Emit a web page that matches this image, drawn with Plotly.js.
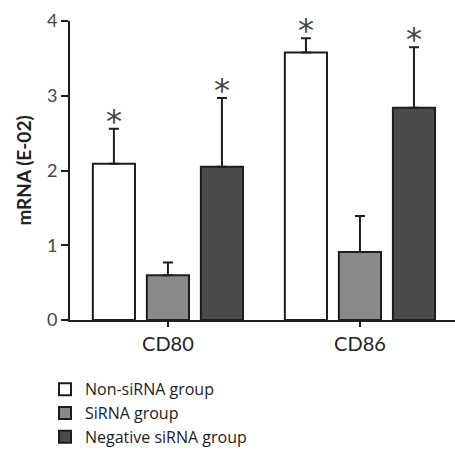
<!DOCTYPE html>
<html><head><meta charset="utf-8">
<script src="https://cdn.plot.ly/plotly-3.0.1.min.js"></script>
<style>html,body{margin:0;padding:0;background:#fff}#chart{width:455px;height:451px}</style>
</head><body><div id="chart"></div>
<script>
const categories = ["CD80", "CD86"];
const seriesNames = ["Non-siRNA group", "SiRNA group", "Negative siRNA group"];
const nonSiRNA = [2.09, 3.58];
const nonSiRNAErr = [0.47, 0.19];
const siRNA = [0.60, 0.91];
const siRNAErr = [0.17, 0.48];
const negSiRNA = [2.05, 2.84];
const negSiRNAErr = [0.92, 0.81];
const significant = [[true, true], [false, false], [true, true]];

const values = [nonSiRNA, siRNA, negSiRNA];
const errs = [nonSiRNAErr, siRNAErr, negSiRNAErr];
const colors = ["#ffffff", "#8a8a8c", "#4b4b4d"];
const xIdx = categories.map((c, i) => i);

const bargap = 0.156;
const traces = values.map((v, k) => ({
  type: "bar", name: seriesNames[k], x: xIdx, y: v,
  marker: {color: colors[k], line: {color: "#1e1e1e", width: 2}},
  error_y: {type: "data", symmetric: false, array: errs[k], arrayminus: v.map(() => 0),
            color: "#1e1e1e", thickness: 2, width: 5}
}));

const slot = (1 - bargap) / values.length;
const annotations = [];
values.forEach((v, k) => v.forEach((val, i) => {
  if (significant[k][i]) {
    annotations.push({xref: "x", yref: "y", x: i + (k - 1) * slot, y: val + errs[k][i],
      text: "*", showarrow: false, yanchor: "bottom", yshift: -13,
      font: {family: "DejaVu Sans", size: 32, color: "#444"}});
  }
}));

const layout = {
  width: 455, height: 451,
  margin: {l: 70, r: 0, t: 21, b: 131, autoexpand: false},
  paper_bgcolor: "#fff", plot_bgcolor: "#fff",
  barmode: "group", bargap: bargap, bargroupgap: 0.22,
  font: {family: "Lato, 'Open Sans', sans-serif", color: "#222"},
  xaxis: {tickvals: xIdx, ticktext: categories, range: [-0.51, 1.495],
    showline: true, linecolor: "#1e1e1e", linewidth: 2, ticks: "outside", ticklen: 5, tickwidth: 2,
    tickcolor: "#1e1e1e", showgrid: false, zeroline: false, tickfont: {size: 20, color: "#222"}},
  yaxis: {range: [0, 4], dtick: 1, showline: true, linecolor: "#1e1e1e", linewidth: 2,
    ticks: "outside", ticklen: 7, tickwidth: 2, tickcolor: "#1e1e1e",
    showgrid: false, zeroline: false, tickfont: {size: 18, color: "#444"},
    title: {text: "<b>mRNA (E-02)</b>", font: {size: 19, color: "#222"}, standoff: 10}},
  showlegend: true,
  legend: {x: -0.065, y: -0.175, xanchor: "left", yanchor: "top", orientation: "v",
    font: {family: "'Open Sans', sans-serif", size: 16, color: "#222"}, tracegroupgap: 0,
    itemwidth: 30, bgcolor: "rgba(0,0,0,0)"},
  annotations: annotations
};
Plotly.newPlot("chart", traces, layout, {displayModeBar: false, staticPlot: true});
</script></body></html>
